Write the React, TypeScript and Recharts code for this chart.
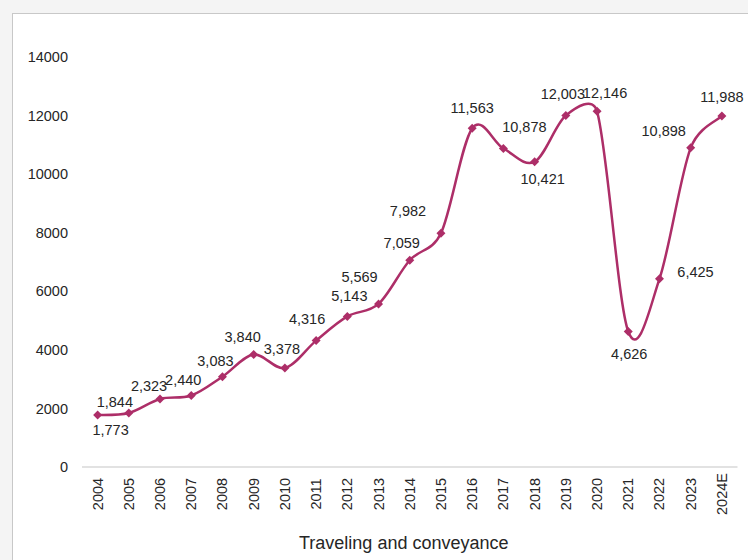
import { LineChart, Line, XAxis, YAxis } from 'recharts';

const years = [
  '2004', '2005', '2006', '2007', '2008', '2009', '2010', '2011', '2012', '2013', '2014',
  '2015', '2016', '2017', '2018', '2019', '2020', '2021', '2022', '2023', '2024E',
];
const travelValues = [
  1773, 1844, 2323, 2440, 3083, 3840, 3378, 4316, 5143, 5569, 7059,
  7982, 11563, 10878, 10421, 12003, 12146, 4626, 6425, 10898, 11988,
];
const yTicks = [0, 2000, 4000, 6000, 8000, 10000, 12000, 14000];
const seriesName = 'Traveling and conveyance';

// label offsets from each point, same order as the data
const labelOffsets: [number, number][] = [
  [13, 15], [-14, -11], [-11, -13], [-8, -16], [-7, -16], [-11, -18], [-3, -19],
  [-9, -22], [2, -20], [-19, -27], [-8, -17], [-33, -22], [0, -20], [21, -21],
  [8, 17], [-3, -21], [8, -18], [1, 22], [36, -7], [-27, -17], [0, -19],
];

const LINE_COLOR = '#AD2E68';
const TEXT_COLOR = '#262626';
const FONT = 'Arial, "Liberation Sans", sans-serif';

const data = years.map((year, i) => ({ year, value: travelValues[i] }));

// Excel-style smoothed line: Catmull-Rom arms (1/6), each arm capped at half its segment
function smoothCurve(context: any) {
  let pts: number[][] = [];
  const arm = (p: number[], a: number[], b: number[], seg: number[], sign: number) => {
    let vx = (b[0] - a[0]) / 6;
    let vy = (b[1] - a[1]) / 6;
    const len = Math.hypot(vx, vy);
    const half = Math.hypot(seg[0] - p[0], seg[1] - p[1]) / 2;
    if (len > half && len > 0) {
      vx *= half / len;
      vy *= half / len;
    }
    return [p[0] + sign * vx, p[1] + sign * vy];
  };
  return {
    areaStart() {},
    areaEnd() {},
    lineStart() {
      pts = [];
    },
    point(x: number, y: number) {
      pts.push([+x, +y]);
    },
    lineEnd() {
      if (!pts.length) return;
      context.moveTo(pts[0][0], pts[0][1]);
      for (let i = 0; i < pts.length - 1; i++) {
        const p0 = pts[i - 1] || pts[i];
        const p1 = pts[i];
        const p2 = pts[i + 1];
        const p3 = pts[i + 2] || p2;
        const c1 = arm(p1, p0, p2, p2, 1);
        const c2 = arm(p2, p1, p3, p1, -1);
        context.bezierCurveTo(c1[0], c1[1], c2[0], c2[1], p2[0], p2[1]);
      }
    },
  };
}

const DiamondDot = (props: any) => {
  const { cx, cy, index } = props;
  if (cx == null || cy == null) return null;
  const r = 4.5;
  return (
    <polygon
      key={`dot-${index}`}
      points={`${cx},${cy - r} ${cx + r},${cy} ${cx},${cy + r} ${cx - r},${cy}`}
      fill={LINE_COLOR}
    />
  );
};

const ValueLabel = (props: any) => {
  const { x, y, value, index } = props;
  const [dx, dy] = labelOffsets[index] || [0, -18];
  return (
    <text
      key={`label-${index}`}
      x={x + dx}
      y={y + dy}
      textAnchor="middle"
      dominantBaseline="central"
      fontSize={14.5}
      fontFamily={FONT}
      fill={TEXT_COLOR}
    >
      {Number(value).toLocaleString('en-US')}
    </text>
  );
};

const YearTick = (props: any) => {
  const { x, payload } = props;
  const cy = 494;
  return (
    <text
      x={x}
      y={cy}
      transform={`rotate(-90, ${x}, ${cy})`}
      textAnchor="middle"
      dominantBaseline="central"
      fontSize={14.5}
      fontFamily={FONT}
      fill={TEXT_COLOR}
    >
      {payload.value}
    </text>
  );
};

export default function App() {
  return (
    <div
      style={{
        position: 'absolute',
        left: 0,
        top: 0,
        width: 748,
        height: 560,
        overflow: 'hidden',
        background: '#f4f4f4',
      }}
    >
      <div
        style={{
          position: 'absolute',
          left: 12,
          top: 13,
          width: 800,
          height: 600,
          background: '#ffffff',
          border: '1px solid #c8c8c8',
        }}
      />
      <div style={{ position: 'absolute', left: 0, top: 0 }}>
        <LineChart
          width={748}
          height={560}
          data={data}
          margin={{ top: 57, right: 10.5, bottom: 0, left: 0 }}
        >
          <XAxis
            dataKey="year"
            interval={0}
            height={93}
            padding={{ left: 15.6, right: 15.6 }}
            tickLine={false}
            axisLine={{ stroke: '#d9d9d9', strokeWidth: 1.5 }}
            tick={<YearTick />}
            label={{
              value: seriesName,
              position: 'insideBottom',
              offset: 11,
              dx: -6,
              style: { fontSize: 18, fontFamily: FONT, fill: TEXT_COLOR },
            }}
          />
          <YAxis
            width={82}
            domain={[0, 14000]}
            ticks={yTicks}
            interval={0}
            axisLine={false}
            tickLine={false}
            tickSize={0}
            tickMargin={14}
            tick={{ fontSize: 14.5, fontFamily: FONT, fill: TEXT_COLOR }}
          />
          <Line
            dataKey="value"
            name={seriesName}
            type={smoothCurve as any}
            stroke={LINE_COLOR}
            strokeWidth={2.5}
            dot={DiamondDot}
            activeDot={false}
            label={ValueLabel}
            isAnimationActive={false}
          />
        </LineChart>
      </div>
    </div>
  );
}
